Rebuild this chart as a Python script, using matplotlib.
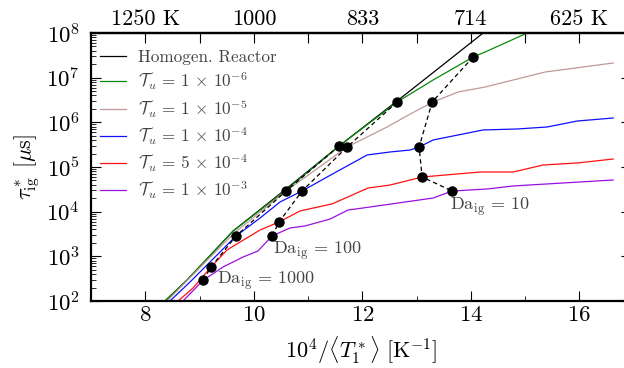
import numpy as np
import matplotlib
matplotlib.use("Agg")
import matplotlib.pyplot as plt
from matplotlib.ticker import MultipleLocator, LogLocator, NullFormatter

plt.rcParams["font.family"] = "serif"
plt.rcParams["font.serif"] = ["cmr10", "DejaVu Serif"]
plt.rcParams["mathtext.fontset"] = "cm"
plt.rcParams["axes.unicode_minus"] = False
plt.rcParams["axes.formatter.use_mathtext"] = True

# ---------------------------------------------------------------------------
# data (x = 1e4/<T1*> [1/K], y = tau_ig [us])
# ---------------------------------------------------------------------------
x_homog = [8.364, 8.770, 9.065, 9.618, 10.594, 11.571, 12.641, 13.433, 14.226, 14.50]
y_homog = [1.0e2, 2.95e2, 7.1e2, 3.69e3, 3.22e4, 2.95e5, 3.01e6, 1.73e7, 1.0e8, 1.75e8]

x_tu6 = [8.364, 8.770, 9.065, 9.618, 10.594, 11.571, 12.641, 13.304, 14.041, 14.263, 15.037, 15.30]
y_tu6 = [1.0e2, 2.95e2, 7.1e2, 3.69e3, 3.05e4, 2.95e5, 2.85e6, 8.87e6, 2.9e7, 3.76e7, 1.0e8, 1.25e8]

x_tu5 = [8.401, 9.618, 10.594, 11.719, 12.456, 12.917, 13.304, 13.765, 14.263, 15.369, 16.622]
y_tu5 = [1.0e2, 3.16e3, 2.9e4, 2.8e5, 7.87e5, 1.62e6, 2.85e6, 4.78e6, 6.18e6, 1.34e7, 2.13e7]

x_tu4 = [8.456, 8.825, 9.673, 10.115, 10.484, 10.889, 11.350, 12.088, 12.512, 12.880,
         13.046, 13.304, 14.226, 14.853, 15.406, 15.959, 16.622]
y_tu4 = [1.0e2, 2.67e2, 2.86e3, 7.21e3, 1.65e4, 2.9e4, 5.97e4, 1.86e5, 2.17e5, 2.40e5,
         2.8e5, 4.03e5, 6.75e5, 7.10e5, 7.87e5, 1.07e6, 1.25e6]

x_tu54 = [8.604, 8.880, 9.212, 9.507, 9.747, 10.115, 10.465, 10.853, 11.442, 12.106,
          12.512, 13.101, 14.171, 14.779, 15.332, 15.959, 16.622]
y_tu54 = [1.0e2, 1.95e2, 5.78e2, 1.39e3, 2.09e3, 3.89e3, 5.87e3, 1.04e4, 1.49e4, 3.39e4,
          3.95e4, 5.97e4, 7.73e4, 7.73e4, 1.11e5, 1.23e5, 1.51e5]

x_tu3 = [8.696, 9.065, 9.433, 9.802, 10.078, 10.336, 10.668, 10.945, 11.406, 11.737,
         12.014, 13.304, 13.654, 14.300, 14.779, 16.622]
y_tu3 = [1.0e2, 2.9e2, 5.78e2, 9.66e2, 1.32e3, 2.86e3, 4.32e3, 4.78e3, 6.85e3, 1.09e4,
         1.21e4, 2.02e4, 2.9e4, 3.22e4, 3.76e4, 5.12e4]

# constant-Damkohler points, ordered Tu = 1e-6, 1e-5, 1e-4, 5e-4, 1e-3
x_da10 = [14.041, 13.286, 13.046, 13.101, 13.654]
y_da10 = [2.9e7, 2.85e6, 2.8e5, 5.97e4, 2.9e4]
x_da100 = [12.641, 11.719, 10.889, 10.465, 10.336]
y_da100 = [2.85e6, 2.8e5, 2.9e4, 5.87e3, 2.86e3]
x_da1000 = [11.571, 10.594, 9.673, 9.212, 9.065]
y_da1000 = [2.95e5, 2.9e4, 2.86e3, 5.78e2, 2.9e2]

top_ticks = [8, 9, 10, 11, 12, 13, 14, 15, 16]
top_labels = ["1250 K", "", "1000", "", "833", "", "714", "", "625 K"]

# ---------------------------------------------------------------------------
fig = plt.figure(figsize=(6.24, 3.68), dpi=100)
ax = fig.add_axes([91 / 624, 67 / 368, 540 / 624, 268 / 368])

lw = 0.9
ax.plot(x_homog, y_homog, color="black", lw=lw, label="Homogen. Reactor")
ax.plot(x_tu6, y_tu6, color="#0a8a0a", lw=lw, label=r"$\mathcal{T}_u\, =\, 1\, \times\, 10^{-6}$")
ax.plot(x_tu5, y_tu5, color="#c09a9a", lw=lw, label=r"$\mathcal{T}_u\, =\, 1\, \times\, 10^{-5}$")
ax.plot(x_tu4, y_tu4, color="#1010ff", lw=lw, label=r"$\mathcal{T}_u\, =\, 1\, \times\, 10^{-4}$")
ax.plot(x_tu54, y_tu54, color="#ff1010", lw=lw, label=r"$\mathcal{T}_u\, =\, 5\, \times\, 10^{-4}$")
ax.plot(x_tu3, y_tu3, color="#9a10e0", lw=lw, label=r"$\mathcal{T}_u\, =\, 1\, \times\, 10^{-3}$")

for xs, ys in [(x_da10, y_da10), (x_da100, y_da100), (x_da1000, y_da1000)]:
    ax.plot(xs, ys, color="black", lw=0.9, ls=(0, (3.5, 2.5)), marker="o",
            ms=6.5, mfc="black", mec="black", zorder=5)

txt_kw = dict(fontsize=13, color="#444444", va="center", ha="left")
ax.text(9.33, 2.9e2, r"$\mathrm{Da}_\mathrm{ig}\, =\, 1000$", **txt_kw)
ax.text(10.36, 1.35e3, r"$\mathrm{Da}_\mathrm{ig}\, =\, 100$", **txt_kw)
ax.text(13.62, 1.3e4, r"$\mathrm{Da}_\mathrm{ig}\, =\, 10$", **txt_kw)

ax.set_yscale("log")
ax.set_xlim(7, 16.95)
ax.set_ylim(1e2, 1e8)
ax.xaxis.set_major_locator(MultipleLocator(2))
ax.xaxis.set_minor_locator(MultipleLocator(1))
ax.yaxis.set_major_locator(LogLocator(base=10, numticks=10))
ax.yaxis.set_minor_locator(LogLocator(base=10, subs=np.arange(2, 10), numticks=20))
ax.yaxis.set_minor_formatter(NullFormatter())
ax.tick_params(which="both", direction="in", right=True, labelsize=16.5)
ax.tick_params(axis="x", which="both", top=False)
ax.tick_params(which="major", length=7.5, width=0.8)
ax.tick_params(which="minor", length=3.5, width=0.6)
ax.tick_params(axis="y", pad=8)
for s in ax.spines.values():
    s.set_linewidth(1.6)

ax.set_xlabel(r"$10^4/\langle T_1^* \rangle\ [\mathrm{K}^{-1}]$", fontsize=16, labelpad=6)
ax.set_ylabel(r"$\tau^*_\mathrm{ig}\ [\mu\mathrm{s}]$", fontsize=16, labelpad=3)

top = ax.secondary_xaxis("top")
top.set_xticks(top_ticks)
top.set_xticklabels(top_labels)
top.tick_params(direction="in", length=7.5, width=0.8, labelsize=16, pad=3)
top.minorticks_off()
top.spines["top"].set_linewidth(1.6)

leg = ax.legend(loc="upper left", frameon=False, fontsize=12.3, handlelength=1.5,
                handletextpad=0.7, labelspacing=0.3, borderaxespad=0.13,
                bbox_to_anchor=(0.0, 0.97))
for t in leg.get_texts():
    t.set_color("#444444")

fig.savefig("out.png", dpi=100)
